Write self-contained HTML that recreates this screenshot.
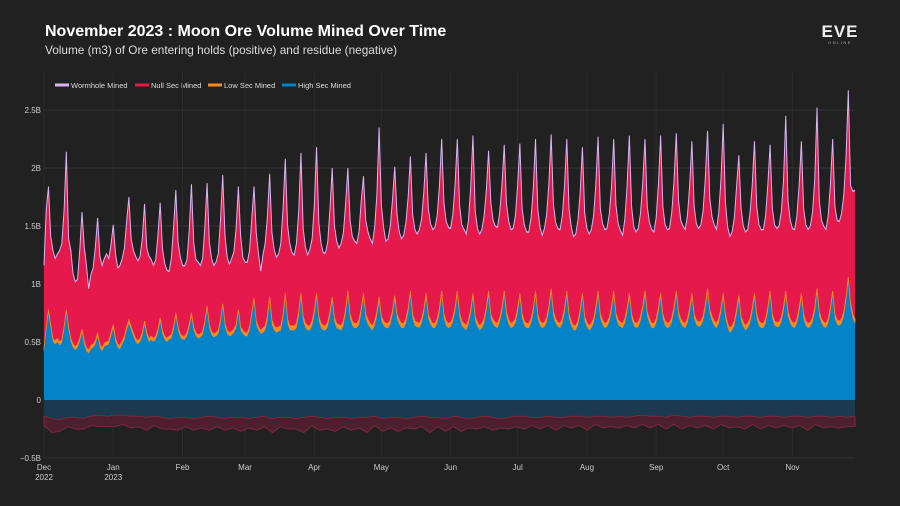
<!DOCTYPE html>
<html><head><meta charset="utf-8"><style>
body{margin:0;background:#212121;font-family:"Liberation Sans",sans-serif;}
svg{display:block}
</style></head><body>
<svg id="c" width="900" height="506">
<rect width="900" height="506" fill="#212121"/>
<text x="45" y="36" fill="#fff" font-size="16" font-weight="bold">November 2023 : Moon Ore Volume Mined Over Time</text>
<text x="45" y="54" fill="#ddd" font-size="11.8">Volume (m3) of Ore entering holds (positive) and residue (negative)</text>
<g>
<text x="840" y="37" fill="#eee" font-size="17" font-weight="bold" text-anchor="middle" letter-spacing="1">EVE</text>
<text x="840" y="44" fill="#aaa" font-size="4" text-anchor="middle" letter-spacing="1.5">ONLINE</text>
</g>
<g id="legend" font-size="7.5" fill="#ddd">
<g><rect x="55" y="83.5" width="14" height="3" fill="#d8b4f0"/><text x="71" y="88">Wormhole Mined</text></g>
<g><rect x="135" y="83.5" width="14" height="3" fill="#e5194c"/><text x="151" y="88">Null Sec Mined</text></g>
<g><rect x="208" y="83.5" width="14" height="3" fill="#f58a1f"/><text x="224" y="88">Low Sec Mined</text></g>
<g><rect x="282" y="83.5" width="14" height="3" fill="#0384c8"/><text x="298" y="88">High Sec Mined</text></g>
</g>
<g id="grid"></g>
<g id="plot"></g>
<g id="axes"></g>
</svg>
<script>
const hi=[0.42,0.6,0.75,0.62,0.5,0.48,0.5,0.47,0.49,0.6,0.75,0.6,0.5,0.45,0.43,0.45,0.5,0.58,0.48,0.42,0.4,0.44,0.45,0.48,0.55,0.45,0.42,0.46,0.47,0.48,0.55,0.62,0.5,0.45,0.44,0.48,0.52,0.6,0.66,0.6,0.55,0.5,0.48,0.5,0.55,0.65,0.55,0.5,0.52,0.5,0.52,0.58,0.68,0.57,0.52,0.5,0.52,0.53,0.6,0.72,0.6,0.54,0.52,0.52,0.55,0.62,0.72,0.6,0.55,0.53,0.54,0.56,0.65,0.78,0.62,0.56,0.54,0.55,0.57,0.66,0.8,0.63,0.57,0.55,0.56,0.58,0.62,0.75,0.6,0.57,0.55,0.55,0.6,0.72,0.85,0.65,0.6,0.57,0.58,0.6,0.68,0.85,0.65,0.6,0.58,0.59,0.6,0.7,0.88,0.66,0.6,0.6,0.6,0.62,0.72,0.88,0.68,0.62,0.6,0.6,0.64,0.73,0.88,0.68,0.62,0.6,0.6,0.63,0.72,0.85,0.67,0.62,0.61,0.6,0.64,0.74,0.9,0.7,0.64,0.62,0.62,0.65,0.75,0.88,0.7,0.65,0.62,0.6,0.64,0.72,0.85,0.68,0.64,0.62,0.62,0.65,0.73,0.86,0.7,0.65,0.62,0.62,0.66,0.75,0.9,0.7,0.64,0.63,0.62,0.66,0.74,0.88,0.7,0.65,0.62,0.62,0.66,0.75,0.9,0.7,0.64,0.62,0.63,0.67,0.76,0.9,0.71,0.64,0.62,0.6,0.65,0.74,0.88,0.68,0.63,0.6,0.62,0.66,0.76,0.9,0.7,0.65,0.63,0.62,0.67,0.76,0.9,0.72,0.65,0.62,0.63,0.66,0.75,0.88,0.7,0.64,0.62,0.62,0.66,0.75,0.9,0.7,0.64,0.62,0.63,0.67,0.77,0.92,0.72,0.66,0.63,0.62,0.66,0.75,0.9,0.7,0.64,0.6,0.6,0.64,0.74,0.88,0.68,0.63,0.6,0.62,0.66,0.76,0.9,0.7,0.65,0.62,0.63,0.67,0.76,0.9,0.71,0.65,0.63,0.62,0.66,0.75,0.88,0.7,0.64,0.62,0.63,0.68,0.77,0.9,0.72,0.66,0.62,0.62,0.66,0.75,0.88,0.7,0.64,0.62,0.63,0.67,0.76,0.9,0.72,0.66,0.63,0.62,0.66,0.75,0.88,0.7,0.65,0.63,0.64,0.68,0.78,0.92,0.74,0.68,0.64,0.62,0.66,0.75,0.88,0.7,0.62,0.58,0.6,0.64,0.74,0.86,0.68,0.63,0.6,0.62,0.66,0.75,0.88,0.7,0.64,0.62,0.62,0.66,0.76,0.9,0.7,0.64,0.63,0.63,0.67,0.76,0.9,0.72,0.66,0.63,0.62,0.66,0.75,0.88,0.7,0.64,0.62,0.63,0.67,0.76,0.92,0.72,0.66,0.63,0.62,0.66,0.76,0.9,0.7,0.65,0.64,0.66,0.72,0.85,1.02,0.8,0.7,0.66];
const nul=[0.7,1.0,1.05,0.75,0.75,0.7,0.72,0.78,0.82,1.0,1.35,0.75,0.75,0.6,0.55,0.55,0.75,1.0,0.8,0.7,0.52,0.6,0.65,0.8,0.98,0.75,0.7,0.72,0.75,0.7,0.75,0.85,0.72,0.65,0.68,0.7,0.75,0.9,1.05,0.75,0.7,0.7,0.68,0.7,0.8,1.0,0.72,0.7,0.65,0.62,0.65,0.8,0.98,0.7,0.62,0.58,0.55,0.65,0.85,1.05,0.72,0.65,0.6,0.6,0.62,0.8,1.1,0.72,0.62,0.62,0.58,0.62,0.8,1.05,0.7,0.62,0.58,0.6,0.65,0.85,1.1,0.75,0.62,0.58,0.62,0.66,0.82,1.05,0.78,0.62,0.6,0.6,0.65,0.8,0.95,0.75,0.62,0.5,0.62,0.7,0.85,1.05,0.75,0.65,0.6,0.62,0.7,0.9,1.15,0.8,0.7,0.62,0.6,0.68,0.85,1.2,0.75,0.65,0.6,0.65,0.7,0.9,1.25,0.8,0.68,0.62,0.62,0.68,0.88,1.1,0.78,0.7,0.65,0.7,0.75,0.9,1.05,0.8,0.72,0.7,0.68,0.75,0.92,1.0,0.8,0.75,0.72,0.7,0.8,1.0,1.45,0.95,0.8,0.7,0.72,0.8,0.95,1.1,0.85,0.75,0.72,0.75,0.82,0.95,1.15,0.85,0.78,0.75,0.8,0.85,1.0,1.2,0.9,0.82,0.8,0.82,0.88,1.05,1.3,0.95,0.85,0.82,0.8,0.88,1.05,1.3,0.92,0.82,0.8,0.78,0.85,1.05,1.35,0.9,0.8,0.78,0.8,0.88,1.0,1.2,0.95,0.85,0.82,0.82,0.9,1.05,1.25,0.92,0.84,0.8,0.8,0.88,1.05,1.28,0.9,0.82,0.78,0.78,0.86,1.02,1.3,0.9,0.8,0.75,0.8,0.88,1.05,1.32,0.92,0.82,0.8,0.8,0.88,1.05,1.3,0.9,0.8,0.76,0.78,0.86,1.0,1.25,0.88,0.8,0.78,0.8,0.88,1.05,1.32,0.9,0.82,0.8,0.8,0.88,1.02,1.3,0.92,0.82,0.78,0.75,0.85,1.05,1.35,0.92,0.8,0.78,0.8,0.88,1.05,1.3,0.9,0.82,0.8,0.78,0.86,1.05,1.35,0.92,0.82,0.8,0.8,0.9,1.08,1.35,0.95,0.84,0.82,0.8,0.88,1.05,1.3,0.92,0.82,0.8,0.82,0.9,1.08,1.35,0.95,0.85,0.82,0.8,0.9,1.1,1.45,0.95,0.82,0.78,0.8,0.88,1.05,1.2,0.92,0.82,0.8,0.8,0.9,1.05,1.3,0.92,0.82,0.8,0.8,0.88,1.05,1.25,0.9,0.82,0.8,0.82,0.9,1.08,1.5,0.95,0.84,0.8,0.8,0.88,1.05,1.3,0.9,0.82,0.8,0.82,0.9,1.1,1.55,0.95,0.84,0.82,0.8,0.88,1.05,1.3,0.92,0.85,0.85,0.9,1.0,1.2,1.6,1.0,1.05,1.1];
// weekly values (B m3)
const loWeekly=[0.03,0.03,0.03,0.03,0.03,0.03,0.03,0.03,0.03,0.03,0.03,0.03,0.03,0.03,0.04,0.04,0.04,0.04,0.04,0.04,0.04,0.04,0.04,0.04,0.04,0.04,0.04,0.04,0.04,0.04,0.04,0.04,0.04,0.04,0.04,0.04,0.04,0.04,0.04,0.04,0.04,0.04,0.04,0.04,0.04,0.04,0.04,0.04,0.04,0.04,0.04,0.04];
const whWeekly=[0.01,0.01,0.01,0.01,0.01,0.01,0.01,0.01,0.01,0.01,0.01,0.01,0.01,0.01,0.01,0.01,0.01,0.01,0.01,0.01,0.01,0.01,0.01,0.01,0.01,0.01,0.01,0.01,0.01,0.01,0.01,0.01,0.01,0.01,0.01,0.01,0.01,0.01,0.01,0.01,0.01,0.01,0.01,0.01,0.01,0.01,0.01,0.01,0.01,0.01,0.01,0.01];
// residue, sampled twice a week (B m3)
const resHi=[0.14,0.16,0.17,0.15,0.15,0.16,0.14,0.13,0.14,0.13,0.13,0.14,0.14,0.15,0.14,0.15,0.16,0.15,0.15,0.16,0.15,0.14,0.15,0.16,0.15,0.15,0.16,0.15,0.14,0.16,0.15,0.15,0.16,0.15,0.14,0.15,0.16,0.15,0.15,0.16,0.15,0.15,0.14,0.16,0.15,0.15,0.16,0.15,0.14,0.15,0.15,0.16,0.14,0.15,0.16,0.15,0.14,0.15,0.16,0.15,0.14,0.14,0.15,0.15,0.14,0.15,0.15,0.14,0.14,0.15,0.14,0.14,0.15,0.14,0.15,0.14,0.13,0.14,0.14,0.15,0.13,0.14,0.15,0.14,0.14,0.15,0.14,0.14,0.15,0.14,0.14,0.15,0.14,0.14,0.15,0.14,0.14,0.15,0.14,0.14,0.15,0.14,0.15,0.14];
const resNul=[0.08,0.12,0.1,0.08,0.1,0.09,0.08,0.1,0.09,0.1,0.08,0.1,0.09,0.11,0.08,0.1,0.09,0.11,0.08,0.1,0.09,0.12,0.08,0.1,0.09,0.12,0.08,0.11,0.09,0.12,0.08,0.1,0.09,0.13,0.08,0.11,0.09,0.12,0.08,0.1,0.09,0.13,0.08,0.11,0.09,0.12,0.08,0.1,0.09,0.13,0.08,0.11,0.09,0.12,0.08,0.1,0.09,0.11,0.08,0.1,0.09,0.11,0.07,0.1,0.08,0.11,0.07,0.1,0.08,0.11,0.07,0.1,0.08,0.1,0.07,0.1,0.08,0.1,0.07,0.1,0.08,0.11,0.07,0.1,0.08,0.1,0.07,0.1,0.08,0.11,0.07,0.1,0.08,0.1,0.07,0.1,0.08,0.11,0.07,0.1,0.08,0.1,0.08,0.09];
const yTicks=[-0.5,0,0.5,1,1.5,2,2.5];
const yTickLabels=["−0.5B","0","0.5B","1B","1.5B","2B","2.5B"];
const monthDays=[0,31,62,90,121,151,182,212,243,274,304,335];
const monthLabels=["Dec","Jan","Feb","Mar","Apr","May","Jun","Jul","Aug","Sep","Oct","Nov"];

const NS="http://www.w3.org/2000/svg";
const X0=44,X1=855,Y0=400,PXB=116;
const N=hi.length;
const x=d=>X0+d*(X1-X0)/(N-1);
const y=v=>Y0-v*PXB;
function mk(tag,attrs,parent){const e=document.createElementNS(NS,tag);for(const k in attrs)e.setAttribute(k,attrs[k]);parent.appendChild(e);return e;}
const grid=document.getElementById('grid'),plot=document.getElementById('plot'),axes=document.getElementById('axes');
yTicks.forEach((t,i)=>{
  const l=mk('line',{x1:X0,x2:X1,y1:y(t),y2:y(t),stroke:'#333','stroke-width':1},grid);
  
  
  const tx=mk('text',{x:X0-3,y:y(t)+3,fill:'#ccc','font-size':8,'text-anchor':'end'},axes);
  tx.textContent=yTickLabels[i];
  
  
});
monthDays.forEach((d,i)=>{
  const l=mk('line',{x1:x(d),x2:x(d),y1:72,y2:458,stroke:'#2c2c2c','stroke-width':1},grid);
  
  
  const tx=mk('text',{x:x(d),y:470,fill:'#ccc','font-size':8,'text-anchor':'middle'},axes);
  tx.textContent=monthLabels[i];
  
  
});
[["2022",0],["2023",1]].forEach(([yr,i])=>{
  const tx=mk('text',{x:x(monthDays[i]),y:480,fill:'#ccc','font-size':8,'text-anchor':'middle'},axes);
  tx.textContent=yr;
  
  
});
const lo=hi.map((_,i)=>loWeekly[Math.min(loWeekly.length-1,Math.floor(i/7))]);
const wh=hi.map((_,i)=>whWeekly[Math.min(whWeekly.length-1,Math.floor(i/7))]);
const c1=hi.slice(), c2=hi.map((v,i)=>v+lo[i]), c3=c2.map((v,i)=>v+nul[i]), c4=c3.map((v,i)=>v+wh[i]);
function area(top,bot){let s='M'+x(0)+','+y(top[0]);for(let i=1;i<N;i++)s+='L'+x(i).toFixed(2)+','+y(top[i]).toFixed(2);for(let i=N-1;i>=0;i--)s+='L'+x(i).toFixed(2)+','+y(bot[i]).toFixed(2);return s+'Z';}
function line(top){let s='M'+x(0)+','+y(top[0]);for(let i=1;i<N;i++)s+='L'+x(i).toFixed(2)+','+y(top[i]).toFixed(2);return s;}
const zero=hi.map(()=>0);
const a4=mk('path',{d:area(c4,c3),fill:'#d8b4f0'},plot);

const a3=mk('path',{d:area(c3,c2),fill:'#e5194c'},plot);

const a2=mk('path',{d:area(c2,c1),fill:'#f58a1f','stroke':'#f58a1f','stroke-width':0.8},plot);

const a1=mk('path',{d:area(c1,zero),fill:'#0384c8'},plot);

const l4=mk('path',{d:line(c4),fill:'none',stroke:'#d8b4f0','stroke-width':1},plot);

// residue (negative)
const R=resHi.length;
const rx=k=>X0+k*(X1-X0)/(R-1);
const rh=resHi.map(v=>-v), rn=resHi.map((v,k)=>-v-resNul[k]);
function rarea(top,bot){let s='M'+rx(0)+','+y(top[0]);for(let k=1;k<R;k++)s+='L'+rx(k).toFixed(2)+','+y(top[k]).toFixed(2);for(let k=R-1;k>=0;k--)s+='L'+rx(k).toFixed(2)+','+y(bot[k]).toFixed(2);return s+'Z';}
const r1=mk('path',{d:rarea(rh.map(()=>0),rh),fill:'#1b3a4f'},plot);

const r2=mk('path',{d:rarea(rh,rn),fill:'#4e1f2e',stroke:'#7a2a3e','stroke-width':1},plot);

</script>
</body></html>
